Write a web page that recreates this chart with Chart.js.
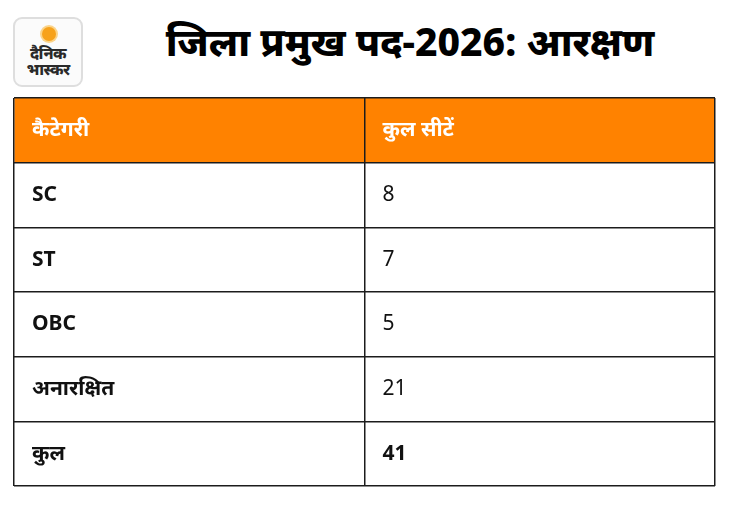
<!DOCTYPE html>
<html lang="hi">

<head>
  <meta charset="UTF-8">
  <title>जिला प्रमुख पद-2026: आरक्षण</title>
  <style>
    html, body { margin: 0; padding: 0; background: #fff; }
    body { font-family: "Noto Sans", "Noto Sans Devanagari", sans-serif; }

    .wrap { position: relative; width: 730px; height: 505px; overflow: hidden; }

    /* 로고 */
    .logo {
      position: absolute; left: 13px; top: 17px;
      width: 66px; height: 66px;
      border: 2px solid #dedede; border-radius: 9px; background: #fbfbfb;
      text-align: center; color: #2a2a2a;
    }
    .logo .sun {
      position: absolute; left: 27px; top: 8px; width: 14px; height: 14px;
      border-radius: 50%; background: #f7a21b;
      box-shadow: 0 0 0 2px #fbd48a;
    }
    .logo .name {
      position: absolute; left: 0; right: 0; top: 26px;
      font-size: 16px; font-weight: 800; line-height: 16px; letter-spacing: -0.6px;
    }

    .title {
      position: absolute; left: 90px; right: 0; top: 16px;
      text-align: center; font-size: 39px; font-weight: 800; line-height: 50px; color: #000;
    }

    .chart-box { position: absolute; left: 0; top: 0; width: 730px; height: 505px; }
  </style>
</head>

<body>
  <div class="wrap">
    <div class="logo">
      <div class="sun"></div>
      <div class="name">दैनिक<br>भास्कर</div>
    </div>
    <div class="title">जिला प्रमुख पद-2026: आरक्षण</div>
    <div class="chart-box">
      <canvas id="tableChart"></canvas>
    </div>
  </div>

  <script src="https://cdn.jsdelivr.net/npm/chart.js@4.4.1/dist/chart.umd.min.js"></script>
  <script>
    // 표 데이터
    const headers = ['कैटेगरी', 'कुल सीटें'];
    const categories = ['SC', 'ST', 'OBC', 'अनारक्षित', 'कुल'];
    const seats = [8, 7, 5, 21, 41];

    const FONT = '"Noto Sans", "Noto Sans Devanagari", sans-serif';
    const ORANGE = '#ff8200';
    const LINE = '#1c1c1c';

    const rowLabels = [headers[0]].concat(categories);

    // 축이 영역을 차지하지 않도록
    const noSpace = (scale) => {
      scale.width = scale.isHorizontal() ? scale.width : 0;
      scale.height = scale.isHorizontal() ? 0 : scale.height;
      scale.paddingTop = 0;
      scale.paddingBottom = 0;
      scale.paddingLeft = 0;
      scale.paddingRight = 0;
    };

    // 두번째 열(헤더 + 값) 텍스트
    const valueColumn = {
      id: 'valueColumn',
      afterDraw(chart) {
        const { ctx, scales: { x, y } } = chart;
        const left = x.getPixelForValue(1) + 18;
        ctx.save();
        ctx.textAlign = 'left';
        ctx.textBaseline = 'middle';

        ctx.fillStyle = '#fff';
        ctx.font = 'bold 21px ' + FONT;
        ctx.fillText(headers[1], left, y.getPixelForValue(0));

        seats.forEach((v, i) => {
          const last = i === seats.length - 1;
          ctx.fillStyle = '#111';
          ctx.font = (last ? 'bold ' : '') + '21px ' + FONT;
          ctx.fillText(String(v), left, y.getPixelForValue(i + 1));
        });
        ctx.restore();
      }
    };

    new Chart(document.getElementById('tableChart'), {
      type: 'bar',
      plugins: [valueColumn],
      data: {
        labels: rowLabels,
        datasets: [{
          // 헤더 배경 (0~2 열 전체)
          data: rowLabels.map((_, i) => i === 0 ? [0, 2] : null),
          backgroundColor: ORANGE,
          borderWidth: 0,
          barPercentage: 1,
          categoryPercentage: 1
        }]
      },
      options: {
        indexAxis: 'y',
        responsive: true,
        maintainAspectRatio: false,
        animation: false,
        layout: {
          padding: { left: 14, right: 15, top: 98, bottom: 19 }
        },
        plugins: {
          legend: { display: false },
          tooltip: { enabled: false }
        },
        scales: {
          x: {
            type: 'linear',
            min: 0,
            max: 2,
            afterFit: noSpace,
            ticks: { display: false, stepSize: 1 },
            grid: { color: LINE, lineWidth: 1.5, drawTicks: false, z: 1 },
            border: { display: false }
          },
          y: {
            type: 'category',
            offset: true,
            afterFit: noSpace,
            grid: { offset: true, color: LINE, lineWidth: 1.5, drawTicks: false, z: 1 },
            border: { display: false },
            ticks: {
              mirror: true,
              padding: 18,
              z: 1,
              color: (c) => c.index === 0 ? '#fff' : '#111',
              font: { family: FONT, size: 21, weight: 'bold' }
            }
          }
        }
      }
    });
  </script>
</body>

</html>
